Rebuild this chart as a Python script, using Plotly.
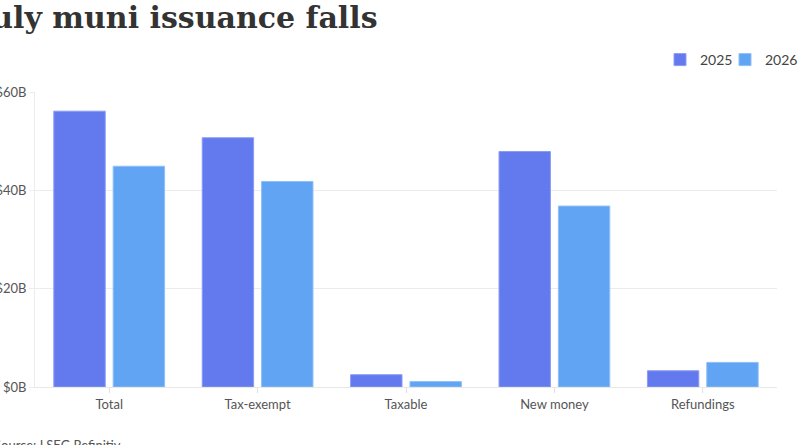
import plotly.graph_objects as go

# July muni issuance, $ billions
categories = ["Total", "Tax-exempt", "Taxable", "New money", "Refundings"]
issuance_2025 = [56.1, 50.7, 2.5, 47.9, 3.3]
issuance_2026 = [44.9, 41.8, 1.1, 36.8, 5.0]
y_ticks = [0, 20, 40, 60]
y_tick_labels = ["$0B", "$20B", "$40B", "$60B"]

W, H = 800, 445
L, R, T, B = 35, 23, 92, 58
pw, ph = W - L - R, H - T - B


def px_x(p):
    return (p - L) / pw


def px_y(p):
    return 1 + (T - p) / ph


fig = go.Figure()
fig.add_trace(go.Bar(x=categories, y=issuance_2025, name="2025", legend="legend",
                     marker=dict(color="#6379EE", line=dict(color="#8C9CF3", width=1))))
fig.add_trace(go.Bar(x=categories, y=issuance_2026, name="2026", legend="legend2",
                     marker=dict(color="#60A4F3", line=dict(color="#8EBFF7", width=1))))

leg = dict(orientation="h", yanchor="middle", y=px_y(60), xanchor="left",
           font=dict(size=14, color="#444444"), itemwidth=30,
           bgcolor="rgba(0,0,0,0)")

fig.update_layout(
    width=W, height=H,
    margin=dict(l=L, r=R, t=T, b=B, autoexpand=False),
    paper_bgcolor="white", plot_bgcolor="white",
    barmode="group", bargap=0.2, bargroupgap=0.134,
    font=dict(family="Lato", size=13, color="#555555"),
    showlegend=True,
    legend=dict(leg, x=px_x(660)),
    legend2=dict(leg, x=px_x(725)),
    xaxis=dict(showgrid=False, showline=True, linecolor="#e8e8e8", linewidth=1,
               ticks="outside", ticklen=5, tickcolor="#e0e0e0",
               tickfont=dict(size=13, color="#555555")),
    yaxis=dict(range=[0, 60], tickmode="array", tickvals=y_ticks, ticktext=y_tick_labels,
               showgrid=True, gridcolor="#ececec", zeroline=False,
               showline=True, linecolor="#ececec",
               ticks="outside", ticklen=5, tickcolor="#ececec",
               tickfont=dict(size=13, color="#555555")),
)

fig.add_annotation(text="<b>July muni issuance falls</b>", xref="paper", yref="paper",
                   x=px_x(-28), y=px_y(17), xanchor="left", yanchor="middle", showarrow=False,
                   font=dict(family="DejaVu Serif", size=30, color="#333333"))
fig.add_annotation(text="Source: LSEG Refinitiv", xref="paper", yref="paper",
                   x=px_x(-8), y=px_y(445), xanchor="left", yanchor="middle", showarrow=False,
                   font=dict(family="Lato", size=13, color="#555555"))

fig.write_html("out.html", config={"displayModeBar": False},
               post_script="document.body.style.margin='0';")
